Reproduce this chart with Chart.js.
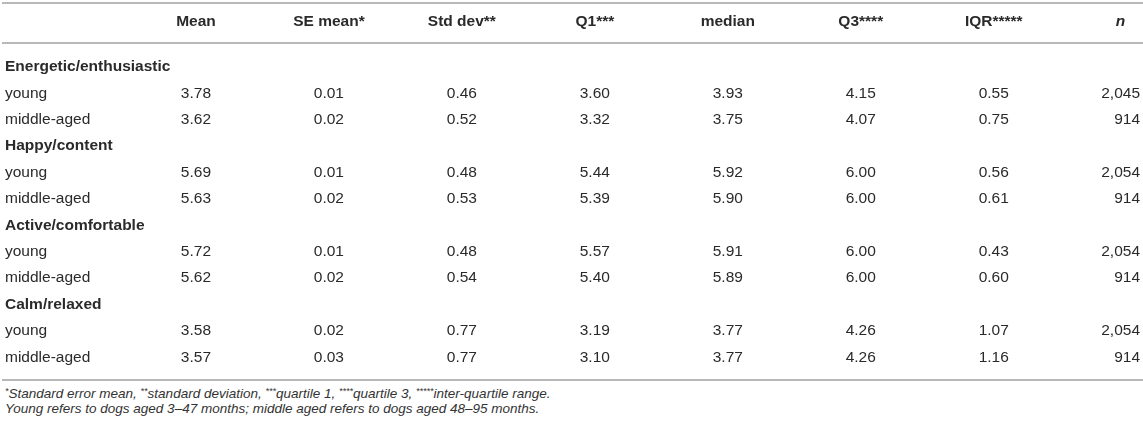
<!DOCTYPE html>
<html>
<head>
<meta charset="utf-8">
<script src="https://cdn.jsdelivr.net/npm/chart.js@4.4.1/dist/chart.umd.min.js"></script>
<style>
    body { margin: 0; background: #fff; }
    #wrap { position: relative; width: 1143px; height: 386px; }
    .notes {
        font-family: "Liberation Sans", Arial, sans-serif;
        font-style: italic;
        font-size: 13.5px;
        line-height: 15px;
        color: #333;
        padding: 0 0 0 5px;
    }
    .notes sup { font-size: 9px; vertical-align: 4px; line-height: 0; }
</style>
</head>
<body>
<div id="wrap"><canvas id="statsTable"></canvas></div>
<div class="notes">
    <div><sup>*</sup>Standard error mean, <sup>**</sup>standard deviation, <sup>***</sup>quartile 1, <sup>****</sup>quartile 3, <sup>*****</sup>inter-quartile range.</div>
    <div>Young refers to dogs aged 3–47 months; middle aged refers to dogs aged 48–95 months.</div>
</div>

<script>
    const columns = ["Mean", "SE mean*", "Std dev**", "Q1***", "median", "Q3****", "IQR*****", "n"];
    const groups = ["Energetic/enthusiastic", "Happy/content", "Active/comfortable", "Calm/relaxed"];
    const ages = ["young", "middle-aged"];

    // one value per row: young, middle-aged for each group in order
    const mean = [3.78, 3.62, 5.69, 5.63, 5.72, 5.62, 3.58, 3.57];
    const seMean = [0.01, 0.02, 0.01, 0.02, 0.01, 0.02, 0.02, 0.03];
    const stdDev = [0.46, 0.52, 0.48, 0.53, 0.48, 0.54, 0.77, 0.77];
    const q1 = [3.60, 3.32, 5.44, 5.39, 5.57, 5.40, 3.19, 3.10];
    const median = [3.93, 3.75, 5.92, 5.90, 5.91, 5.89, 3.77, 3.77];
    const q3 = [4.15, 4.07, 6.00, 6.00, 6.00, 6.00, 4.26, 4.26];
    const iqr = [0.55, 0.75, 0.56, 0.61, 0.43, 0.60, 1.07, 1.16];
    const counts = [2045, 914, 2054, 914, 2054, 914, 2054, 914];

    (() => {
        const FONT = '"Liberation Sans", Arial, sans-serif';
        const TEXT = "#2a2a2a";
        const RULE = "#b8b8b8";
        const statCols = [mean, seMean, stdDev, q1, median, q3, iqr];

        // one row unit per table row, group headings included
        const rows = [];
        let pos = 0;
        groups.forEach((g, gi) => {
            rows.push({ kind: "group", label: g, y: pos++ });
            ages.forEach((a, ai) => {
                rows.push({ kind: "data", label: a, y: pos++, idx: gi * 2 + ai });
            });
        });

        const tablePlugin = {
            id: "tablePlugin",
            afterDraw(chart) {
                const ctx = chart.ctx;
                const xs = chart.scales.x, ys = chart.scales.y;
                const area = chart.chartArea;
                ctx.save();

                // horizontal rules: top, under header, bottom
                ctx.strokeStyle = RULE;
                ctx.lineWidth = 2;
                [-2.42, -0.91, 11.86].forEach(v => {
                    const py = Math.round(ys.getPixelForValue(v));
                    ctx.beginPath();
                    ctx.moveTo(2, py);
                    ctx.lineTo(chart.width, py);
                    ctx.stroke();
                });

                ctx.fillStyle = TEXT;
                ctx.textBaseline = "middle";

                // n column: right aligned, header centred over the widest value
                ctx.font = "15.5px " + FONT;
                const nTexts = counts.map(v => v.toLocaleString("en-US"));
                const nWidth = Math.max(...nTexts.map(t => ctx.measureText(t).width));
                const nRight = area.right;

                // header row
                const hy = ys.getPixelForValue(-1.72);
                ctx.textAlign = "center";
                columns.forEach((c, ci) => {
                    if (ci === columns.length - 1) {
                        ctx.font = "italic bold 15.5px " + FONT;
                        ctx.fillText(c, nRight - nWidth / 2, hy);
                    } else {
                        ctx.font = "bold 15.5px " + FONT;
                        ctx.fillText(c, xs.getPixelForValue(ci + 1), hy);
                    }
                });

                rows.forEach(r => {
                    const py = ys.getPixelForValue(r.y);
                    ctx.textAlign = "left";
                    if (r.kind === "group") {
                        ctx.font = "bold 15.5px " + FONT;
                        ctx.fillText(r.label, area.left, py);
                        return;
                    }
                    ctx.font = "15.5px " + FONT;
                    ctx.fillText(r.label, area.left, py);
                    ctx.textAlign = "center";
                    statCols.forEach((arr, ci) => {
                        ctx.fillText(arr[r.idx].toFixed(2), xs.getPixelForValue(ci + 1), py);
                    });
                    ctx.textAlign = "right";
                    ctx.fillText(nTexts[r.idx], nRight, py);
                });
                ctx.restore();
            }
        };

        new Chart(document.getElementById("statsTable"), {
            type: "scatter",
            data: { datasets: [{ data: [] }] },
            options: {
                responsive: true,
                maintainAspectRatio: false,
                animation: false,
                layout: { padding: { left: 5, right: 3, top: 0, bottom: 0 } },
                plugins: { legend: { display: false }, tooltip: { enabled: false } },
                scales: {
                    x: { type: "linear", display: false, min: -0.436, max: 8.1 },
                    y: { type: "linear", display: false, reverse: true, min: -2.538, max: 12.083 }
                }
            },
            plugins: [tablePlugin]
        });
    })();
</script>
</body>
</html>
